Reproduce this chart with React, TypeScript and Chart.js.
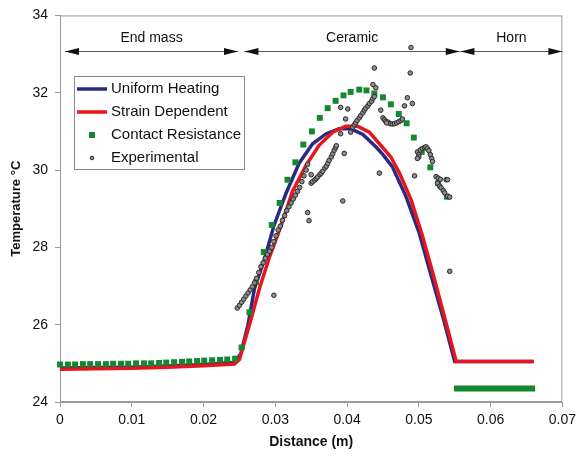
import React, { useEffect, useRef } from "react";
import { Chart, registerables } from "chart.js";
Chart.register(...registerables);

const FONT = "'Liberation Sans', Arial, Helvetica, sans-serif";

// Uniform Heating (blue)
const uniformX = [0, 0.005, 0.01, 0.015, 0.02, 0.0243, 0.0252, 0.0262, 0.0271, 0.0285, 0.0298, 0.0315, 0.0333, 0.0352, 0.0371, 0.0389, 0.0405, 0.0422, 0.044, 0.045, 0.0463, 0.0482, 0.05, 0.0517, 0.0535, 0.055, 0.066];
const uniformY = [24.88, 24.89, 24.9, 24.93, 24.97, 25.02, 25.25, 26.0, 26.94, 27.7, 28.56, 29.4, 30.17, 30.68, 30.94, 31.07, 31.07, 30.92, 30.6, 30.4, 30.09, 29.32, 28.4, 27.28, 26.1, 25.05, 25.05];

// Strain Dependent (red)
const strainX = [0, 0.005, 0.01, 0.015, 0.02, 0.0243, 0.025, 0.0264, 0.0278, 0.0291, 0.0308, 0.0324, 0.0343, 0.0361, 0.038, 0.0398, 0.0415, 0.0431, 0.0445, 0.0461, 0.0473, 0.0489, 0.0505, 0.0522, 0.054, 0.0552, 0.066];
const strainY = [24.85, 24.86, 24.87, 24.9, 24.94, 24.98, 25.1, 26.0, 26.94, 27.7, 28.56, 29.45, 30.13, 30.64, 30.98, 31.13, 31.13, 30.98, 30.68, 30.34, 29.92, 29.24, 28.3, 27.16, 25.9, 25.05, 25.05];

// Contact Resistance (green squares)
const contactX = [0, 0.0011, 0.0021, 0.0032, 0.0042, 0.0053, 0.0064, 0.0074, 0.0085, 0.0095, 0.0106, 0.0117, 0.0127, 0.0138, 0.0148, 0.0159, 0.017, 0.018, 0.0191, 0.0201, 0.0212, 0.0223, 0.0233, 0.0244,
  0.0253, 0.0264, 0.0273, 0.0284, 0.0295, 0.0306, 0.0317, 0.0328, 0.0339, 0.0351, 0.0362, 0.0373, 0.0384, 0.0395, 0.0405, 0.0417, 0.0427, 0.0438, 0.045, 0.0461, 0.0472, 0.0483, 0.0493, 0.0504, 0.0516, 0.0527, 0.0539];
const contactY = [24.97, 24.97, 24.97, 24.98, 24.98, 24.98, 24.98, 24.99, 24.99, 24.99, 25.0, 25.0, 25.0, 25.01, 25.02, 25.03, 25.04, 25.05, 25.06, 25.07, 25.08, 25.09, 25.1, 25.12,
  25.41, 26.32, 27.1, 27.88, 28.58, 29.15, 29.75, 30.2, 30.66, 31.0, 31.35, 31.6, 31.79, 31.93, 32.02, 32.08, 32.06, 31.98, 31.88, 31.7, 31.45, 31.21, 30.84, 30.47, 30.07, 29.66, 29.31];

// Contact Resistance in the horn
const hornContactX = [0.0549, 0.0662];
const hornContactY = [24.35, 24.35];

// Experimental
const expX = [
  0.0247, 0.025, 0.0253, 0.0256, 0.0259, 0.0262, 0.0265, 0.0268, 0.0271, 0.0274, 0.0277, 0.028, 0.0283, 0.0286, 0.0289, 0.0292, 0.0295, 0.0298, 0.0301, 0.0304, 0.0307, 0.031, 0.0313, 0.0316, 0.0319, 0.0322, 0.0325, 0.0328, 0.0331, 0.0334, 0.0337, 0.034, 0.0343, 0.0345,
  0.0298, 0.0345, 0.0347, 0.0394, 0.0396, 0.0445, 0.0494, 0.0543, 0.0489, 0.0438, 0.0488, 0.0436, 0.044, 0.0391, 0.0401, 0.0398, 0.0391, 0.0405, 0.0484, 0.0491, 0.048, 0.0447,
  0.035, 0.0352, 0.0355, 0.0357, 0.0359, 0.0362, 0.0364, 0.0366, 0.0369, 0.0371, 0.0373, 0.0375, 0.0378, 0.038, 0.0382, 0.0384, 0.0385, 0.035,
  0.0408, 0.041, 0.0412, 0.0414, 0.0417, 0.0419, 0.0422, 0.0424, 0.0426, 0.0429, 0.0431, 0.0434, 0.0436, 0.0438,
  0.045, 0.0452, 0.0454, 0.0457, 0.046, 0.0463, 0.0466, 0.0469, 0.0472, 0.0475, 0.0477, 0.0455,
  0.0498, 0.05, 0.0502, 0.0505, 0.0508, 0.051, 0.0512, 0.0514, 0.0516, 0.0518, 0.0519, 0.05, 0.0498,
  0.0524, 0.0527, 0.053, 0.0538, 0.054, 0.0526, 0.0529, 0.0531, 0.0534, 0.0536, 0.054, 0.0543,
];
const expY = [
  26.43, 26.5, 26.58, 26.66, 26.74, 26.82, 26.9, 26.98, 27.08, 27.2, 27.35, 27.5, 27.6, 27.72, 27.82, 27.9, 28.0, 28.15, 28.3, 28.45, 28.55, 28.7, 28.82, 28.95, 29.05, 29.15, 29.25, 29.35, 29.45, 29.55, 29.7, 29.85, 30.0, 30.15,
  26.76, 28.9, 28.69, 29.2, 30.43, 29.92, 29.85, 27.38, 33.17, 32.64, 32.51, 32.21, 32.13, 31.62, 31.58, 31.32, 30.94, 30.98, 31.87, 31.72, 31.66, 31.55,
  29.66, 29.7, 29.74, 29.78, 29.82, 29.88, 29.92, 29.97, 30.05, 30.1, 30.17, 30.25, 30.34, 30.42, 30.51, 30.58, 30.63, 29.88,
  31.11, 31.17, 31.22, 31.28, 31.35, 31.41, 31.48, 31.55, 31.6, 31.66, 31.72, 31.78, 31.85, 31.9,
  31.35, 31.3, 31.26, 31.24, 31.2, 31.19, 31.2, 31.22, 31.25, 31.28, 31.32, 31.22,
  30.47, 30.4, 30.52, 30.56, 30.58, 30.6, 30.55, 30.5, 30.4, 30.3, 30.22, 30.34, 30.3,
  29.83, 29.79, 29.76, 29.75, 29.75, 29.66, 29.58, 29.54, 29.47, 29.41, 29.32, 29.3,
];

// Region annotations
const regionLabels = ["End mass", "Ceramic", "Horn"];
const regionStart = [0.0007, 0.0257, 0.0558];
const regionEnd = [0.0248, 0.0557, 0.07];
const regionArrowY = 33.08;
const regionLabelY = 33.4;

const xTicks = [0, 0.01, 0.02, 0.03, 0.04, 0.05, 0.06, 0.07];
const yTicks = [24, 26, 28, 30, 32, 34];

const toPts = (xs: number[], ys: number[]) => xs.map((x, i) => ({ x, y: ys[i] }));

const framePlugin = {
  id: "frame",
  beforeDatasetsDraw(chart: any) {
    const { ctx, chartArea: a } = chart;
    ctx.save();
    ctx.strokeStyle = "#9a9a9a";
    ctx.lineWidth = 1;
    ctx.strokeRect(a.left + 0.5, a.top + 0.5, a.right - a.left - 1, a.bottom - a.top - 1);
    ctx.restore();
  },
};

const regionPlugin = {
  id: "regions",
  afterDraw(chart: any) {
    const { ctx } = chart;
    const xs = chart.scales.x;
    const ys = chart.scales.y;
    ctx.save();
    const yA = Math.round(ys.getPixelForValue(regionArrowY)) + 0.5;
    const yL = ys.getPixelForValue(regionLabelY);
    regionLabels.forEach((lab, i) => {
      const x1 = xs.getPixelForValue(regionStart[i]);
      const x2 = xs.getPixelForValue(regionEnd[i]);
      ctx.strokeStyle = "#555";
      ctx.lineWidth = 1;
      ctx.beginPath();
      ctx.moveTo(x1, yA);
      ctx.lineTo(x2, yA);
      ctx.stroke();
      ctx.fillStyle = "#111";
      const hl = 14, hh = 3.5;
      ctx.beginPath();
      ctx.moveTo(x1, yA);
      ctx.lineTo(x1 + hl, yA - hh);
      ctx.lineTo(x1 + hl, yA + hh);
      ctx.closePath();
      ctx.fill();
      ctx.beginPath();
      ctx.moveTo(x2, yA);
      ctx.lineTo(x2 - hl, yA - hh);
      ctx.lineTo(x2 - hl, yA + hh);
      ctx.closePath();
      ctx.fill();
      ctx.font = `14px ${FONT}`;
      ctx.textAlign = "center";
      ctx.textBaseline = "middle";
      ctx.fillText(lab, (x1 + x2) / 2, yL);
    });
    ctx.restore();
  },
};

const legendPlugin = {
  id: "customLegend",
  afterDraw(chart: any) {
    const { ctx } = chart;
    const left = 74, top = 76, w = 170, h = 93;
    ctx.save();
    ctx.fillStyle = "#fff";
    ctx.fillRect(left, top, w, h);
    ctx.strokeStyle = "#8a8a8a";
    ctx.lineWidth = 1;
    ctx.strokeRect(left + 0.5, top + 0.5, w, h);
    const items = chart.data.datasets.filter((d: any) => d.label);
    items.forEach((d: any, i: number) => {
      const cy = top + 13 + i * 23;
      if (d.showLine) {
        ctx.strokeStyle = d.borderColor;
        ctx.lineWidth = 3.5;
        ctx.beginPath();
        ctx.moveTo(left + 3, cy);
        ctx.lineTo(left + 33, cy);
        ctx.stroke();
      } else if (d.pointStyle === "rect") {
        ctx.fillStyle = d.backgroundColor;
        ctx.fillRect(left + 15, cy - 3, 6, 6);
      } else {
        ctx.fillStyle = d.backgroundColor;
        ctx.strokeStyle = d.borderColor;
        ctx.lineWidth = 1;
        ctx.beginPath();
        ctx.arc(left + 18, cy, 1.8, 0, Math.PI * 2);
        ctx.fill();
        ctx.stroke();
      }
      ctx.fillStyle = "#111";
      ctx.font = `15px ${FONT}`;
      ctx.textAlign = "left";
      ctx.textBaseline = "middle";
      ctx.fillText(d.label, left + 37, cy);
    });
    ctx.restore();
  },
};

export default function App() {
  const ref = useRef<HTMLCanvasElement>(null);
  useEffect(() => {
    document.body.style.margin = "0";
    const canvas = ref.current!;
    const chart = new Chart(canvas, {
      type: "scatter",
      data: {
        datasets: [
          {
            label: "Uniform Heating",
            data: toPts(uniformX, uniformY),
            showLine: true,
            borderColor: "#2b2a82",
            backgroundColor: "#2b2a82",
            borderWidth: 3.5,
            pointRadius: 0,
            tension: 0,
            order: 5,
            clip: false,
          },
          {
            label: "Strain Dependent",
            data: toPts(strainX, strainY),
            showLine: true,
            borderColor: "#e8161c",
            backgroundColor: "#e8161c",
            borderWidth: 3.5,
            pointRadius: 0,
            tension: 0,
            order: 4,
            clip: false,
          },
          {
            label: "Contact Resistance",
            data: toPts(contactX, contactY),
            showLine: false,
            pointStyle: "rect",
            pointRadius: 4.2,
            borderWidth: 0,
            borderColor: "#15872e",
            backgroundColor: "#15872e",
            order: 2,
            clip: false,
          },
          {
            label: "Experimental",
            data: toPts(expX, expY),
            showLine: false,
            pointStyle: "circle",
            pointRadius: 2.3,
            borderWidth: 1,
            borderColor: "#2a2a2a",
            backgroundColor: "#8c8c8c",
            order: 1,
            clip: false,
          },
          {
            label: "",
            data: toPts(hornContactX, hornContactY),
            showLine: true,
            borderColor: "#15872e",
            backgroundColor: "#15872e",
            borderWidth: 6,
            borderCapStyle: "butt",
            pointRadius: 0,
            order: 3,
            clip: false,
          },
        ] as any,
      },
      options: {
        responsive: false,
        animation: false,
        devicePixelRatio: 1,
        events: [],
        layout: { padding: { top: 10, right: 18, left: 0, bottom: 0 } },
        plugins: { legend: { display: false }, tooltip: { enabled: false } },
        scales: {
          x: {
            type: "linear",
            min: 0,
            max: 0.07,
            afterBuildTicks: (s: any) => {
              s.ticks = xTicks.map((v) => ({ value: v }));
            },
            ticks: {
              autoSkip: false,
              maxRotation: 0,
              padding: 5,
              color: "#111",
              font: { family: FONT, size: 14 },
              callback: (v: any) => String(Number(Number(v).toFixed(2))),
            },
            grid: { display: true, drawOnChartArea: false, drawTicks: true, tickLength: 5, color: "#9a9a9a" },
            border: { display: true, color: "#9a9a9a" },
            title: {
              display: true,
              text: "Distance (m)",
              color: "#111",
              font: { family: FONT, size: 14, weight: "bold" },
              padding: { top: 0, bottom: 9 },
            },
            afterFit: (s: any) => {
              s.height = 58;
            },
          },
          y: {
            type: "linear",
            min: 24,
            max: 34,
            afterBuildTicks: (s: any) => {
              s.ticks = yTicks.map((v) => ({ value: v }));
            },
            ticks: {
              autoSkip: false,
              padding: 7,
              color: "#111",
              font: { family: FONT, size: 14 },
            },
            grid: { display: true, drawOnChartArea: false, drawTicks: true, tickLength: 5, color: "#9a9a9a" },
            border: { display: true, color: "#9a9a9a" },
            title: {
              display: true,
              text: "Temperature °C",
              color: "#111",
              font: { family: FONT, size: 13, weight: "bold" },
              padding: { top: 9, bottom: 0 },
            },
            afterFit: (s: any) => {
              s.width = 60;
            },
          },
        },
      } as any,
      plugins: [framePlugin, regionPlugin, legendPlugin],
    });
    return () => chart.destroy();
  }, []);
  return (
    <div style={{ width: 581, height: 460 }}>
      <canvas ref={ref} width={581} height={460} style={{ display: "block" }} />
    </div>
  );
}
